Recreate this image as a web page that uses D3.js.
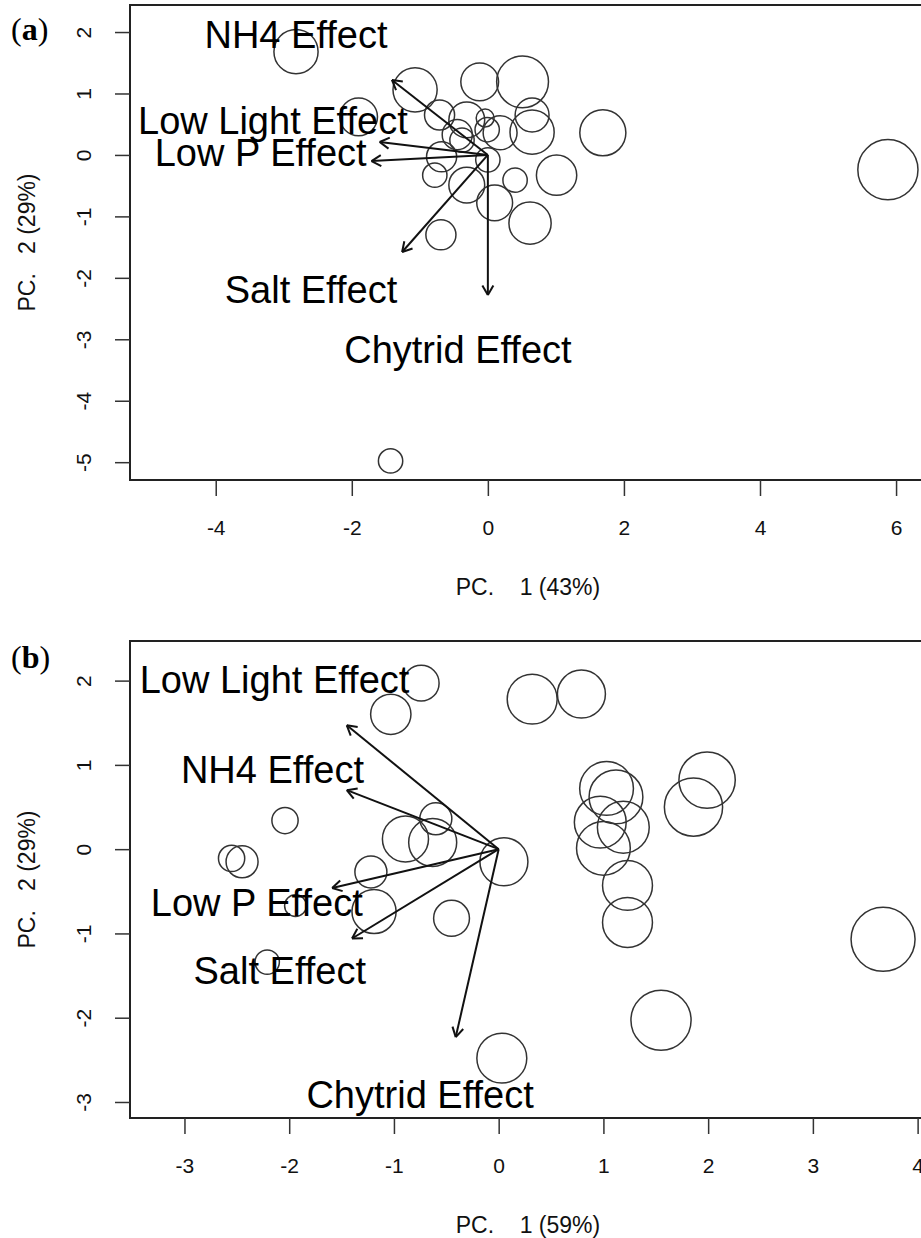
<!DOCTYPE html>
<html lang="en">
<head>
<meta charset="utf-8">
<title>PCA biplots</title>
<script src="https://cdn.jsdelivr.net/npm/d3@7"></script>
<style>
  body { margin: 0; background: #fff; }
  svg { display: block; font-family: Arial, "Liberation Sans", sans-serif; }
  .tick line { stroke: #333; stroke-width: 1.5; }
  .tick text { fill: #111; font-size: 21px; }
  .site { fill: none; stroke: #333; stroke-width: 1.5; }
  .arrow { stroke: #111; stroke-width: 2; fill: none; }
  .effect { font-size: 38px; fill: #000; text-anchor: middle; }
  .axis-title { font-size: 23px; fill: #111; text-anchor: middle; white-space: pre; }
  .panel-tag { font-family: "Liberation Serif", "Times New Roman", serif; font-weight: bold; font-size: 32px; }
</style>
</head>
<body>
<div id="chart"></div>
<script>
// ---- data ----
var effectNames = ['NH4 Effect', 'Low Light Effect', 'Low P Effect', 'Salt Effect', 'Chytrid Effect'];

// panel (a)
var siteAx = [-2.82, -1.90, -1.07, -0.12, 0.51, -0.71, -0.31, -0.04, 0.18, 0.65, 0.65, 1.69, -0.01,
              -0.38, -0.68, 0.00, -0.78, -0.31, 0.10, 0.40, 1.01, 0.62, -0.69, -0.45, 5.88, -1.43];
var siteAy = [1.68, 0.62, 1.06, 1.19, 1.19, 0.65, 0.57, 0.60, 0.36, 0.65, 0.37, 0.36, 0.41,
              0.24, -0.03, -0.08, -0.33, -0.49, -0.78, -0.41, -0.33, -1.11, -1.30, 0.33, -0.24, -4.98];
var siteAsize = [0.69, 0.59, 0.69, 0.59, 0.81, 0.47, 0.56, 0.28, 0.53, 0.53, 0.69, 0.72, 0.38,
                 0.38, 0.47, 0.38, 0.38, 0.56, 0.56, 0.38, 0.63, 0.66, 0.47, 0.47, 0.94, 0.38];
var loadAx = [-1.41, -1.59, -1.71, -1.26, 0.00];
var loadAy = [1.22, 0.21, -0.10, -1.58, -2.28];
var labelAx = [-2.82, -3.16, -3.34, -2.60, -0.44];
var labelAy = [1.97, 0.57, 0.05, -2.18, -3.16];
var ticksAx = [-4, -2, 0, 2, 4, 6];
var ticksAy = [-5, -4, -3, -2, -1, 0, 1, 2];

// panel (b)
var siteBx = [-0.74, -1.03, 0.32, 0.79, -2.04, -2.55, -2.45, -0.60, -0.89, -0.63, 0.05, -1.22, -1.19, -0.45,
              1.03, 1.12, 0.97, 1.19, 1.00, 1.23, 1.23, 1.99, 1.86, -1.94, 3.67, -2.21, 1.55, 0.03];
var siteBy = [1.97, 1.60, 1.78, 1.84, 0.34, -0.11, -0.15, 0.36, 0.12, 0.08, -0.15, -0.27, -0.74, -0.82,
              0.72, 0.62, 0.32, 0.26, 0.01, -0.43, -0.87, 0.82, 0.50, -0.67, -1.07, -1.34, -2.03, -2.48];
var siteBsize = [0.56, 0.63, 0.78, 0.75, 0.41, 0.41, 0.50, 0.50, 0.72, 0.75, 0.75, 0.50, 0.69, 0.56,
                 0.84, 0.84, 0.81, 0.81, 0.84, 0.78, 0.78, 0.88, 0.91, 0.34, 1.00, 0.38, 0.94, 0.78];
var effectOrderB = ['Low Light Effect', 'NH4 Effect', 'Low P Effect', 'Salt Effect', 'Chytrid Effect'];
var loadBx = [-1.45, -1.45, -1.59, -1.40, -0.41];
var loadBy = [1.47, 0.70, -0.46, -1.06, -2.23];
var labelBx = [-2.14, -2.16, -2.31, -2.09, -0.75];
var labelBy = [2.02, 0.95, -0.63, -1.44, -2.91];
var ticksBx = [-3, -2, -1, 0, 1, 2, 3, 4];
var ticksBy = [-3, -2, -1, 0, 1, 2];

// ---- drawing ----
var W = 921, H = 1238;
var svg = d3.select('#chart').append('svg').attr('width', W).attr('height', H);

var rScale = d3.scaleLinear().domain([0, 1]).range([0, 32]);
var plainNum = function(d) { return String(d); };  // hyphen minus like the original

function drawPanel(p) {
  var x = d3.scaleLinear().domain(p.xDomain).range([p.left, p.right]);
  var y = d3.scaleLinear().domain(p.yDomain).range([p.bottom, p.top]);
  var g = svg.append('g');

  var clipId = 'clip' + p.tag;
  g.append('clipPath').attr('id', clipId)
    .append('rect').attr('x', p.left).attr('y', p.top)
    .attr('width', p.right - p.left).attr('height', p.bottom - p.top);

  // sites
  g.append('g').attr('clip-path', 'url(#' + clipId + ')')
    .selectAll('circle')
    .data(p.sx)
    .enter()
    .append('circle')
    .attr('class', 'site')
    .attr('cx', function(d) { return x(d); })
    .attr('cy', function(d, i) { return y(p.sy[i]); })
    .attr('r', function(d, i) { return rScale(p.ss[i]); });

  // loading arrows
  var arr = g.append('g');
  p.lx.forEach(function(lx, i) {
    var x0 = x(0), y0 = y(0), x1 = x(lx), y1 = y(p.ly[i]);
    arr.append('line').attr('class', 'arrow')
      .attr('x1', x0).attr('y1', y0).attr('x2', x1).attr('y2', y1);
    var ang = Math.atan2(y1 - y0, x1 - x0), len = 11, spread = Math.PI / 6;
    [ang + Math.PI - spread, ang + Math.PI + spread].forEach(function(a) {
      arr.append('line').attr('class', 'arrow')
        .attr('x1', x1).attr('y1', y1)
        .attr('x2', x1 + len * Math.cos(a)).attr('y2', y1 + len * Math.sin(a));
    });
  });

  // effect labels
  g.selectAll('text.effect')
    .data(p.names)
    .enter()
    .append('text')
    .attr('class', 'effect')
    .attr('x', function(d, i) { return x(p.tx[i]); })
    .attr('y', function(d, i) { return y(p.ty[i]); })
    .attr('dy', '0.36em')
    .text(function(d) { return d; });

  // box
  g.append('rect')
    .attr('x', p.left).attr('y', p.top)
    .attr('width', p.right - p.left).attr('height', p.bottom - p.top)
    .attr('fill', 'none').attr('stroke', '#222').attr('stroke-width', 2);

  // axes
  var xAxis = g.append('g')
    .attr('transform', 'translate(0,' + p.bottom + ')')
    .call(d3.axisBottom(x).tickValues(p.xt).tickSize(16).tickFormat(plainNum));
  xAxis.select('.domain').remove();
  xAxis.selectAll('text').attr('y', 47).attr('dy', '0.36em');

  var yAxis = g.append('g')
    .attr('transform', 'translate(' + p.left + ',0)')
    .call(d3.axisLeft(y).tickValues(p.yt).tickSize(15).tickFormat(plainNum));
  yAxis.select('.domain').remove();
  yAxis.selectAll('text')
    .attr('x', null).attr('dy', '0.36em')
    .attr('text-anchor', 'middle')
    .attr('transform', 'translate(-47,0) rotate(-90)');

  // axis titles
  g.append('text').attr('class', 'axis-title')
    .attr('x', 528).attr('y', p.bottom + 107).attr('dy', '0.36em')
    .text(p.xTitle);
  g.append('text').attr('class', 'axis-title')
    .attr('transform', 'translate(27,' + ((p.top + p.bottom) / 2) + ') rotate(-90)')
    .attr('dy', '0.36em')
    .text(p.yTitle);

  // panel tag
  var tag = g.append('text').attr('class', 'panel-tag')
    .attr('x', 11).attr('y', p.tagY).attr('dy', '0.36em');
  tag.append('tspan').attr('font-weight', 'normal').text('(');
  tag.append('tspan').text(p.tag);
  tag.append('tspan').attr('font-weight', 'normal').text(')');
}

drawPanel({
  tag: 'a', tagY: 28,
  left: 130, right: 926, top: 5, bottom: 480,
  xDomain: [-5.26, 6.44], yDomain: [-5.29, 2.44],
  sx: siteAx, sy: siteAy, ss: siteAsize,
  lx: loadAx, ly: loadAy,
  names: effectNames, tx: labelAx, ty: labelAy,
  xt: ticksAx, yt: ticksAy,
  xTitle: 'PC.    1 (43%)', yTitle: 'PC.   2 (29%)'
});

drawPanel({
  tag: 'b', tagY: 656,
  left: 130, right: 926, top: 641, bottom: 1118,
  xDomain: [-3.52, 4.08], yDomain: [-3.19, 2.47],
  sx: siteBx, sy: siteBy, ss: siteBsize,
  lx: loadBx, ly: loadBy,
  names: effectOrderB, tx: labelBx, ty: labelBy,
  xt: ticksBx, yt: ticksBy,
  xTitle: 'PC.    1 (59%)', yTitle: 'PC.   2 (29%)'
});
</script>
</body>
</html>
